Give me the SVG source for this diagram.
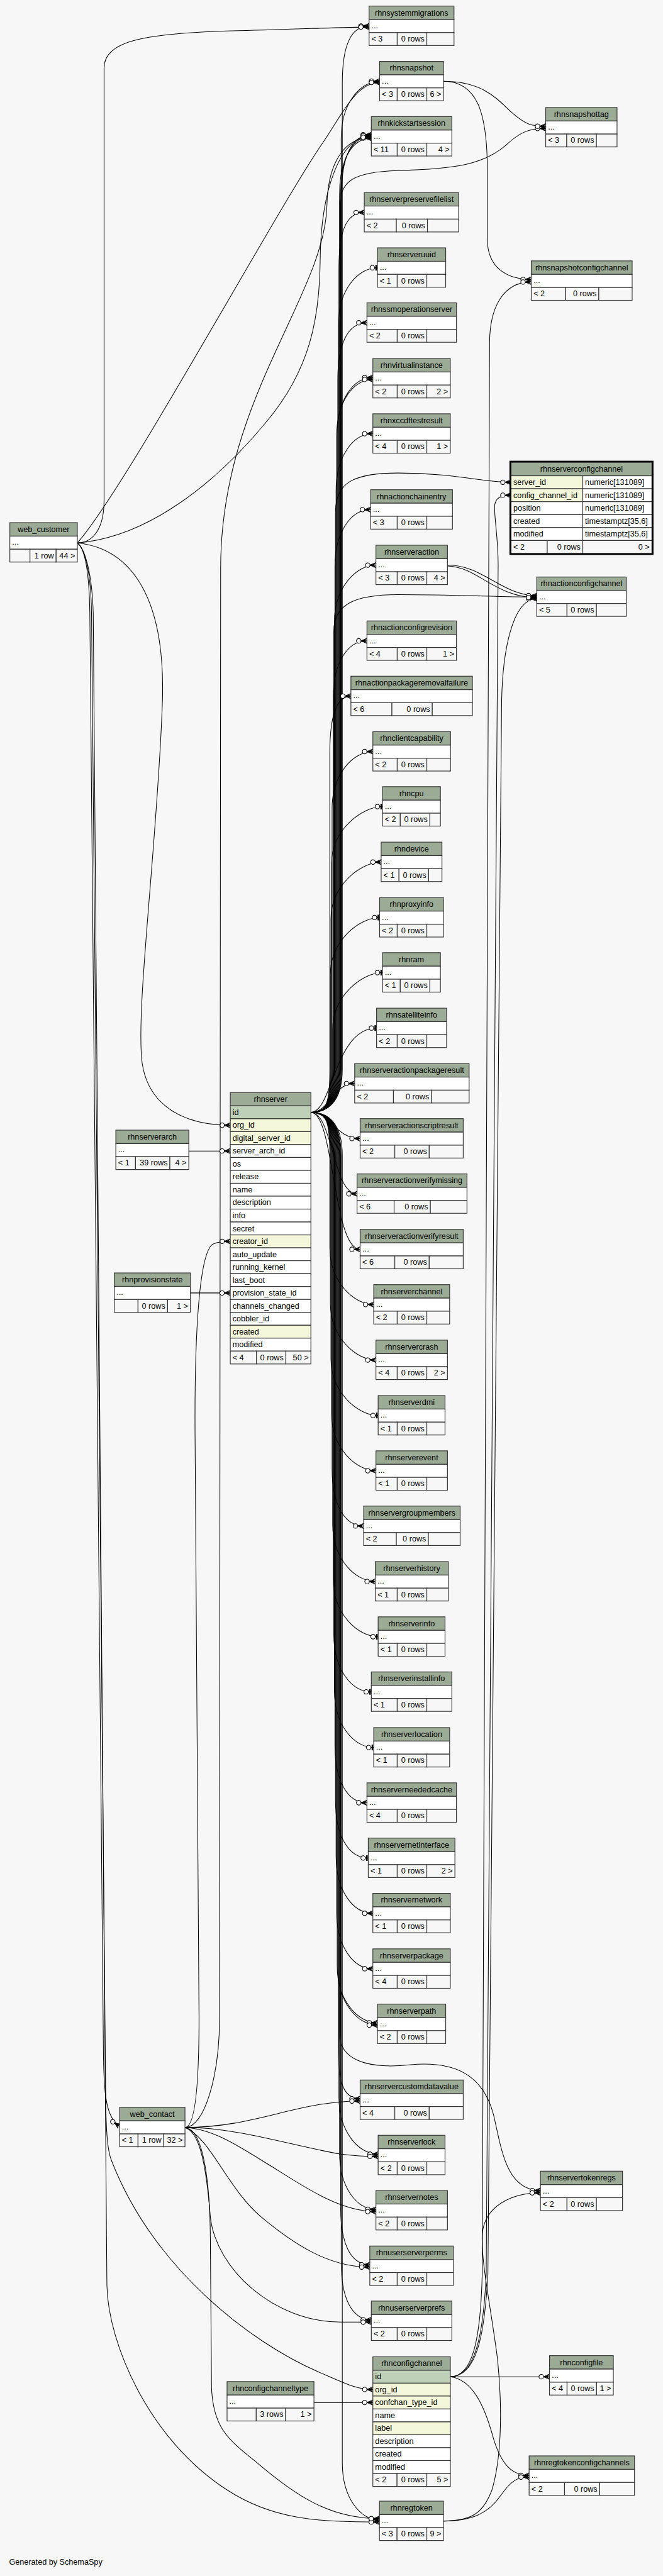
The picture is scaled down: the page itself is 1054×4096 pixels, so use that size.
<svg xmlns="http://www.w3.org/2000/svg" width="1054" height="4096" viewBox="0 0 1054 4096">
<style>
.h{fill:#9bab96}.w{fill:#fff}.f{fill:#f7f7f7}.pk{fill:#bed1b8}.ix{fill:#f4f7da}
.n rect{stroke:#333;stroke-width:1.3}
text{font-family:"Liberation Sans",Arial,Helvetica,sans-serif;font-size:14px;fill:#000}
.c{text-anchor:middle}.r{text-anchor:end}
#connectors path{fill:none;stroke:#000;stroke-width:1.15}
</style>
<defs>
<marker id="many" markerUnits="userSpaceOnUse" viewBox="0 0 24 16" markerWidth="24" markerHeight="16" refX="22" refY="8" orient="auto" overflow="visible">
<path d="M11.6,8 L22,8 M11.6,8 L22,3.5 M11.6,8 L22,12.5" stroke="#000" stroke-width="1.2" fill="none"/>
<path d="M11.6,8 L22,4.5 L18.5,8 L22,11.5 Z" fill="#000"/>
<circle cx="7.6" cy="8" r="4" fill="#fff" stroke="#000" stroke-width="1.2"/>
</marker>
<marker id="one" markerUnits="userSpaceOnUse" viewBox="0 0 24 16" markerWidth="24" markerHeight="16" refX="22" refY="8" orient="auto" overflow="visible">
<path d="M17,8 L22,8" stroke="#000" stroke-width="1.2"/>
<rect x="18.3" y="3" width="2.8" height="10" fill="#000"/>
<circle cx="13" cy="8" r="4" fill="#fff" stroke="#000" stroke-width="1.2"/>
</marker>
</defs>
<rect width="1054" height="4096" fill="#f7f7f7"/>
<g transform="scale(0.904)">
<g id="connectors">
<!-- rhnserver.id up -->
<path marker-end="url(#many)" d="M546.7,1956.5 C575,1956.5 602,1940 602,1880 L602,145.7 C602,85.7 614.1,45.7 649.1,45.7"/>
<path marker-end="url(#many)" d="M546.7,1956.5 C575,1956.5 600,1940 600,1880 L600,242.9 C600,182.9 632.6,142.9 667.6,142.9"/>
<path marker-end="url(#many)" d="M546.7,1956.5 C575,1956.5 601,1940 601,1880 L601,337 C601,277 618,237 653,237"/>
<path marker-end="url(#many)" d="M546.7,1956.5 C575,1956.5 599,1940 599,1880 L599,340 C599,280 618,240 653,240"/>
<path marker-end="url(#many)" d="M546.7,1956.5 C575,1956.5 597,1940 597,1880 L597,343 C597,283 618,243 653,243"/>
<path marker-end="url(#many)" d="M546.7,1956.5 C575,1956.5 598,1940 598,1880 L598,360 C598,320 620,302 700,300 C800,297 850,290 890,255 C915,232 930,226 959.7,226"/>
<path marker-end="url(#many)" d="M546.7,1956.5 C575,1956.5 596,1940 596,1880 L596,473.7 C596,413.7 605.6,373.7 640.6,373.7"/>
<path marker-end="url(#one)" d="M546.7,1956.5 C575,1956.5 595,1940 595,1880 L595,570.9 C595,510.9 628.8,470.9 663.8,470.9"/>
<path marker-end="url(#many)" d="M546.7,1956.5 C575,1956.5 594,1940 594,1880 L594,667.7 C594,607.7 610.3,567.7 645.3,567.7"/>
<path marker-end="url(#many)" d="M546.7,1956.5 C575,1956.5 593,1940 593,1880 L593,764 C593,704 620.7,664 655.7,664"/>
<path marker-end="url(#many)" d="M546.7,1956.5 C575,1956.5 592,1940 592,1880 L592,767.5 C592,707.5 620.7,667.5 655.7,667.5"/>
<path marker-end="url(#many)" d="M546.7,1956.5 C575,1956.5 591,1940 591,1880 L591,862.8 C591,802.8 620.7,762.8 655.7,762.8"/>
<path marker-end="url(#many)" d="M546.7,1956.5 C575,1956.5 590,1940 590,1880 L590,900 C590,850 620,832 700,832 C800,832 850,848.3 898.7,848.3"/>
<path marker-end="url(#many)" d="M546.7,1956.5 C575,1956.5 589,1940 589,1880 L589,996.4 C589,936.4 616.8,896.4 651.8,896.4"/>
<path marker-end="url(#many)" d="M546.7,1956.5 C575,1956.5 588,1940 588,1880 L588,1094 C588,1034 626.1,994 661.1,994"/>
<path marker-end="url(#many)" d="M546.7,1956.5 C575,1956.5 587,1940 587,1880 L587,1110 C587,1065 620,1046 700,1046 C800,1046 880,1050 943.9,1050"/>
<path marker-end="url(#many)" d="M546.7,1956.5 C575,1956.5 586,1940 586,1880 L586,1227.2 C586,1167.2 610.3,1127.2 645.3,1127.2"/>
<path marker-end="url(#many)" d="M546.7,1956.5 C575,1956.5 580,1940 580,1880 L580,1324.4 C580,1264.4 590,1224.4 617.1,1224.4"/>
<path marker-end="url(#many)" d="M546.7,1956.5 C575,1956.5 584,1940 584,1880 L584,1421.9 C584,1361.9 620.7,1321.9 655.7,1321.9"/>
<path marker-end="url(#one)" d="M546.7,1956.5 C575,1956.5 583,1940 583,1880 L583,1518.7 C583,1458.7 637.7,1418.7 672.7,1418.7"/>
<path marker-end="url(#many)" d="M546.7,1956.5 C575,1956.5 582,1940 582,1880 L582,1616.3 C582,1556.3 635.3,1516.3 670.3,1516.3"/>
<path marker-end="url(#one)" d="M546.7,1956.5 C575,1956.5 581,1940 581,1880 L581,1713.9 C581,1653.9 632.6,1613.9 667.6,1613.9"/>
<path marker-end="url(#one)" d="M546.7,1956.5 C575,1956.5 585,1940 585,1880 L585,1810.7 C585,1750.7 637.7,1710.7 672.7,1710.7"/>
<path marker-end="url(#one)" d="M546.7,1956.5 C585,1956.5 588,1808.3 662.2,1808.3"/>
<!-- rhnserver.id near -->
<path marker-end="url(#many)" d="M546.7,1956.5 C580,1956.5 585,1905.8 623.7,1905.8"/>
<path marker-end="url(#many)" d="M546.7,1956.5 C580,1956.5 590,2002.6 633.3,2002.6"/>
<path marker-end="url(#many)" d="M546.7,1956.5 C585,1956.5 585,2099.8 627.9,2099.8"/>
<path marker-end="url(#many)" d="M546.7,1956.5 C588,1956.5 585,2197.4 633.3,2197.4"/>
<!-- rhnserver.id down -->
<path marker-end="url(#many)" d="M546.7,1956.5 C575,1956.5 580,1973 580,2033 L580,2194.6 C580,2254.6 622.2,2294.6 657.2,2294.6"/>
<path marker-end="url(#many)" d="M546.7,1956.5 C575,1956.5 581,1973 581,2033 L581,2292.2 C581,2352.2 626.1,2392.2 661.1,2392.2"/>
<path marker-end="url(#one)" d="M546.7,1956.5 C575,1956.5 582,1973 582,2033 L582,2389.7 C582,2449.7 630,2489.7 665,2489.7"/>
<path marker-end="url(#many)" d="M546.7,1956.5 C575,1956.5 583,1973 583,2033 L583,2486.9 C583,2546.9 626.1,2586.9 661.1,2586.9"/>
<path marker-end="url(#many)" d="M546.7,1956.5 C575,1956.5 584,1973 584,2033 L584,2584.1 C584,2644.1 604.5,2684.1 639.5,2684.1"/>
<path marker-end="url(#many)" d="M546.7,1956.5 C575,1956.5 585,1973 585,2033 L585,2681.7 C585,2741.7 624.9,2781.7 659.9,2781.7"/>
<path marker-end="url(#one)" d="M546.7,1956.5 C575,1956.5 586,1973 586,2033 L586,2778.9 C586,2838.9 630,2878.9 665,2878.9"/>
<path marker-end="url(#one)" d="M546.7,1956.5 C575,1956.5 587,1973 587,2033 L587,2875.8 C587,2935.8 618,2975.8 653,2975.8"/>
<path marker-end="url(#one)" d="M546.7,1956.5 C575,1956.5 588,1973 588,2033 L588,2973.7 C588,3033.7 622.2,3073.7 657.2,3073.7"/>
<path marker-end="url(#many)" d="M546.7,1956.5 C575,1956.5 589,1973 589,2033 L589,3070.9 C589,3130.9 610.3,3170.9 645.3,3170.9"/>
<path marker-end="url(#one)" d="M546.7,1956.5 C575,1956.5 590,1973 590,2033 L590,3168.1 C590,3228.1 612.6,3268.1 647.6,3268.1"/>
<path marker-end="url(#many)" d="M546.7,1956.5 C575,1956.5 591,1973 591,2033 L591,3265.3 C591,3325.3 620.7,3365.3 655.7,3365.3"/>
<path marker-end="url(#many)" d="M546.7,1956.5 C575,1956.5 592,1973 592,2033 L592,3362.9 C592,3422.9 620.7,3462.9 655.7,3462.9"/>
<path marker-end="url(#many)" d="M546.7,1956.5 C575,1956.5 593,1973 593,2033 L593,3458 C593,3518 628.8,3558 663.8,3558"/>
<path marker-end="url(#many)" d="M546.7,1956.5 C575,1956.5 594,1973 594,2033 L594,3462 C594,3522 628.8,3562 663.8,3562"/>
<path marker-end="url(#many)" d="M546.7,1956.5 C575,1956.5 598,1973 598,2033 L598,3580 C598,3620 640,3640 720,3632 C800,3624 850,3650 868,3720 C882,3780 890,3853 950.4,3853"/>
<path marker-end="url(#many)" d="M546.7,1956.5 C575,1956.5 595,1973 595,2033 L595,3591.5 C595,3651.5 598.3,3691.5 633.3,3691.5"/>
<path marker-end="url(#many)" d="M546.7,1956.5 C575,1956.5 596,1973 596,2033 L596,3689 C596,3749 630,3789 665,3789"/>
<path marker-end="url(#many)" d="M546.7,1956.5 C575,1956.5 597,1973 597,2033 L597,3786 C597,3846 626.1,3886 661.1,3886"/>
<path marker-end="url(#many)" d="M546.7,1956.5 C575,1956.5 599,1973 599,2033 L599,3883.6 C599,3943.6 615.3,3983.6 650.3,3983.6"/>
<path marker-end="url(#many)" d="M546.7,1956.5 C575,1956.5 600,1973 600,2033 L600,3980.4 C600,4040.4 618,4080.4 653,4080.4"/>
<path marker-end="url(#many)" d="M546.7,1956.5 C575,1956.5 602,1973 602,2033 L602,4332 C602,4392 632.3,4432 667.3,4432"/>
<!-- web_customer -->
<path marker-end="url(#many)" d="M136,955 C160,955 183,935 183,880 L183,120 C183,70 260,58 420,54 C540,51 600,47.7 649.1,47.7"/>
<path marker-end="url(#many)" d="M136,955 C220,860 480,380 565,255 C600,205 625,145 667.6,145"/>
<path marker-end="url(#many)" d="M136,955 C260,945 380,850 470,740 C545,650 562,560 563,460 C564,330 600,238.5 653,238.5"/>
<path marker-end="url(#many)" d="M136,955 C230,965 295,1050 285,1250 C275,1500 238,1780 250,1870 C262,1950 330,1979.2 405,1979.2"/>
<path marker-end="url(#many)" d="M136,955 C150,965 157,1010 158,1080 L182,3620 C183,3690 188,3725 210.3,3740"/>
<path marker-end="url(#many)" d="M136,955 C150,965 160,1010 161,1080 L186,3700 C187,3760 190,3785 196,3800 C270,3990 440,4120 560,4172 C600,4189 625,4202.9 655.7,4202.9"/>
<path marker-end="url(#many)" d="M136,955 C150,965 162,1010 164,1080 L188,4020 C190,4120 260,4290 400,4380 C480,4432 560,4436 667.3,4436"/>
<!-- web_contact -->
<path marker-end="url(#many)" d="M325.3,3742 C345,3742 350,3650 350,3550 L343,2520 C342,2350 350,2200 375,2188 C385,2184 395,2183.4 405,2183.4"/>
<path marker-end="url(#many)" d="M325.3,3742 C360,3742 386,3650 386,3550 L388,1000 C388,700 572,520 575,360 C577,280 610,241.5 653,241.5"/>
<path marker-end="url(#many)" d="M325.3,3742 C420,3742 480,3716 560,3702 C590,3697 610,3695.5 633.3,3695.5"/>
<path marker-end="url(#many)" d="M325.3,3742 C420,3742 520,3776 600,3789 C630,3793 650,3793 665,3793"/>
<path marker-end="url(#many)" d="M325.3,3742 C380,3745 430,3782 480,3812 C540,3850 600,3890 661.1,3890"/>
<path marker-end="url(#many)" d="M325.3,3742 C370,3760 400,3850 460,3900 C520,3950 580,3987.6 650.3,3987.6"/>
<path marker-end="url(#many)" d="M325.3,3742 C350,3750 362,3800 370,3900 C380,3990 480,4084.4 600,4084.4 L653,4084.4"/>
<path marker-end="url(#many)" d="M325.3,3742 C360,3745 370,3850 370,3950 L372,4200 C375,4270 400,4290 450,4330 C520,4390 580,4430 667.3,4430"/>
<!-- rhnsnapshot -->
<path marker-end="url(#many)" d="M779.9,142.9 C850,142.9 875,175 900,198 C925,220 935,222 959.7,222"/>
<path marker-end="url(#many)" d="M779.9,142.9 C840,143 857,200 857,300 L857,420 C857,470 890,491.5 934.2,491.5"/>
<!-- rhnconfigchannel -->
<path marker-end="url(#many)" d="M792,4180.5 L966.3,4180.5"/>
<path marker-end="url(#many)" d="M792,4180.5 C830,4185 852,4230 868,4290 C882,4335 900,4354 930.5,4354"/>
<path marker-end="url(#many)" d="M792,4180.5 C830,4180 845,4120 848,4000 L861,600 C862,540 885,496 934.2,496"/>
<path marker-end="url(#many)" d="M792,4180.5 C835,4180 850,4110 855,4000 L876,1000 C877,950 868,905 870,888 C872,876 880,871 898.7,871"/>
<path marker-end="url(#many)" d="M792,4180.5 C838,4180 852,4110 858,4000 L882,1250 C882,1150 900,1053 943.9,1053"/>
<!-- rhnregtoken -->
<path marker-end="url(#many)" d="M779.9,4434.3 C830,4434 860,4420 880,4390 C900,4362 910,4357 930.5,4357"/>
<path marker-end="url(#many)" d="M779.9,4434.3 C830,4434 850,4420 865,4380 C880,4330 885,4250 875,4150 C862,4050 846,3980 848,3930 C852,3880 900,3857 950.4,3857"/>
<!-- rhnserveraction -->
<path marker-end="url(#many)" d="M786.9,994 C850,994 880,1046 943.9,1048"/>
<path marker-end="url(#many)" d="M786.9,995.5 C840,997 870,1050 943.9,1051.5"/>
<!-- lookups -->
<path marker-end="url(#many)" d="M332,2024.5 L405,2024.5"/>
<path marker-end="url(#many)" d="M334.7,2274.2 L405,2274.2"/>
<path marker-end="url(#many)" d="M552.1,4225.8 L655.7,4225.8"/>
</g>

<g id="rhnsystemmigrations" class="n" transform="translate(649.1,10.7)"><rect class="h" width="149.3" height="23.7"/><rect class="w" y="23.7" width="149.3" height="23"/><rect class="f" y="46.7" width="49.4" height="22.6"/><rect class="f" x="49.4" y="46.7" width="52.1" height="22.6"/><rect class="f" x="101.5" y="46.7" width="47.8" height="22.6"/><text class="c" x="74.65" y="16.5">rhnsystemmigrations</text><text x="4" y="39">...</text><text x="4" y="62.5">&lt; 3</text><text class="r" x="97.5" y="62.5">0 rows</text></g>
<g id="rhnsnapshot" class="n" transform="translate(667.6,107.9)"><rect class="h" width="112.3" height="23.7"/><rect class="w" y="23.7" width="112.3" height="23"/><rect class="f" y="46.7" width="30.9" height="22.6"/><rect class="f" x="30.9" y="46.7" width="52.1" height="22.6"/><rect class="f" x="83" y="46.7" width="29.3" height="22.6"/><text class="c" x="56.15" y="16.5">rhnsnapshot</text><text x="4" y="39">...</text><text x="4" y="62.5">&lt; 3</text><text class="r" x="79" y="62.5">0 rows</text><text class="r" x="108.3" y="62.5">6 &gt;</text></g>
<g id="rhnkickstartsession" class="n" transform="translate(653,205.1)"><rect class="h" width="141.6" height="23.7"/><rect class="w" y="23.7" width="141.6" height="23"/><rect class="f" y="46.7" width="45.5" height="22.6"/><rect class="f" x="45.5" y="46.7" width="52.1" height="22.6"/><rect class="f" x="97.6" y="46.7" width="44" height="22.6"/><text class="c" x="70.8" y="16.5">rhnkickstartsession</text><text x="4" y="39">...</text><text x="4" y="62.5">&lt; 11</text><text class="r" x="93.6" y="62.5">0 rows</text><text class="r" x="137.6" y="62.5">4 &gt;</text></g>
<g id="rhnsnapshottag" class="n" transform="translate(959.7,189.1)"><rect class="h" width="125.4" height="23.7"/><rect class="w" y="23.7" width="125.4" height="23"/><rect class="f" y="46.7" width="37" height="22.6"/><rect class="f" x="37" y="46.7" width="52.1" height="22.6"/><rect class="f" x="89.1" y="46.7" width="36.3" height="22.6"/><text class="c" x="62.7" y="16.5">rhnsnapshottag</text><text x="4" y="39">...</text><text x="4" y="62.5">&lt; 3</text><text class="r" x="85.1" y="62.5">0 rows</text></g>
<g id="rhnserverpreservefilelist" class="n" transform="translate(640.6,338.7)"><rect class="h" width="165.9" height="23.7"/><rect class="w" y="23.7" width="165.9" height="23"/><rect class="f" y="46.7" width="56.4" height="22.6"/><rect class="f" x="56.4" y="46.7" width="54.7" height="22.6"/><rect class="f" x="111.1" y="46.7" width="54.8" height="22.6"/><text class="c" x="82.95" y="16.5">rhnserverpreservefilelist</text><text x="4" y="39">...</text><text x="4" y="62.5">&lt; 2</text><text class="r" x="107.1" y="62.5">0 rows</text></g>
<g id="rhnserveruuid" class="n" transform="translate(663.8,435.9)"><rect class="h" width="120" height="23.7"/><rect class="w" y="23.7" width="120" height="23"/><rect class="f" y="46.7" width="34.7" height="22.6"/><rect class="f" x="34.7" y="46.7" width="52.1" height="22.6"/><rect class="f" x="86.8" y="46.7" width="33.2" height="22.6"/><text class="c" x="60" y="16.5">rhnserveruuid</text><text x="4" y="39">...</text><text x="4" y="62.5">&lt; 1</text><text class="r" x="82.8" y="62.5">0 rows</text></g>
<g id="rhnsnapshotconfigchannel" class="n" transform="translate(934.2,458.9)"><rect class="h" width="177.5" height="23.7"/><rect class="w" y="23.7" width="177.5" height="23"/><rect class="f" y="46.7" width="60.6" height="22.6"/><rect class="f" x="60.6" y="46.7" width="58.2" height="22.6"/><rect class="f" x="118.8" y="46.7" width="58.7" height="22.6"/><text class="c" x="88.75" y="16.5">rhnsnapshotconfigchannel</text><text x="4" y="39">...</text><text x="4" y="62.5">&lt; 2</text><text class="r" x="114.8" y="62.5">0 rows</text></g>
<g id="rhnssmoperationserver" class="n" transform="translate(645.3,532.7)"><rect class="h" width="157.4" height="23.7"/><rect class="w" y="23.7" width="157.4" height="23"/><rect class="f" y="46.7" width="53.2" height="22.6"/><rect class="f" x="53.2" y="46.7" width="52.1" height="22.6"/><rect class="f" x="105.3" y="46.7" width="52.1" height="22.6"/><text class="c" x="78.7" y="16.5">rhnssmoperationserver</text><text x="4" y="39">...</text><text x="4" y="62.5">&lt; 2</text><text class="r" x="101.3" y="62.5">0 rows</text></g>
<g id="rhnvirtualinstance" class="n" transform="translate(655.7,630.6)"><rect class="h" width="136.2" height="23.7"/><rect class="w" y="23.7" width="136.2" height="23"/><rect class="f" y="46.7" width="42.8" height="22.6"/><rect class="f" x="42.8" y="46.7" width="52.1" height="22.6"/><rect class="f" x="94.9" y="46.7" width="41.3" height="22.6"/><text class="c" x="68.1" y="16.5">rhnvirtualinstance</text><text x="4" y="39">...</text><text x="4" y="62.5">&lt; 2</text><text class="r" x="90.9" y="62.5">0 rows</text><text class="r" x="132.2" y="62.5">2 &gt;</text></g>
<g id="rhnxccdftestresult" class="n" transform="translate(655.7,727.8)"><rect class="h" width="136.2" height="23.7"/><rect class="w" y="23.7" width="136.2" height="23"/><rect class="f" y="46.7" width="42.8" height="22.6"/><rect class="f" x="42.8" y="46.7" width="52.1" height="22.6"/><rect class="f" x="94.9" y="46.7" width="41.3" height="22.6"/><text class="c" x="68.1" y="16.5">rhnxccdftestresult</text><text x="4" y="39">...</text><text x="4" y="62.5">&lt; 4</text><text class="r" x="90.9" y="62.5">0 rows</text><text class="r" x="132.2" y="62.5">1 &gt;</text></g>
<g id="rhnserverconfigchannel" class="n" transform="translate(898.7,813.2)"><rect class="h" width="247.7" height="23.7"/><rect class="ix" y="23.7" width="126.2" height="22.75"/><rect class="w" x="126.2" y="23.7" width="121.5" height="22.75"/><rect class="ix" y="46.45" width="126.2" height="22.75"/><rect class="w" x="126.2" y="46.45" width="121.5" height="22.75"/><rect class="w" y="69.2" width="126.2" height="22.75"/><rect class="w" x="126.2" y="69.2" width="121.5" height="22.75"/><rect class="w" y="91.95" width="126.2" height="22.75"/><rect class="w" x="126.2" y="91.95" width="121.5" height="22.75"/><rect class="w" y="114.7" width="126.2" height="22.75"/><rect class="w" x="126.2" y="114.7" width="121.5" height="22.75"/><rect class="f" y="137.45" width="63.7" height="22.75"/><rect class="f" x="63.7" y="137.45" width="62.5" height="22.75"/><rect class="f" x="126.2" y="137.45" width="121.5" height="22.75"/><rect x="-1.4" y="-1.4" width="250.5" height="162.9" fill="none" style="stroke:#000;stroke-width:2.8"/><text class="c" x="123.85" y="16.5">rhnserverconfigchannel</text><text x="4" y="40">server_id</text><text x="130.2" y="40">numeric[131089]</text><text x="4" y="62.7">config_channel_id</text><text x="130.2" y="62.7">numeric[131089]</text><text x="4" y="85.4">position</text><text x="130.2" y="85.4">numeric[131089]</text><text x="4" y="108.2">created</text><text x="130.2" y="108.2">timestamptz[35,6]</text><text x="4" y="130.9">modified</text><text x="130.2" y="130.9">timestamptz[35,6]</text><text x="4" y="153.7">&lt; 2</text><text class="r" x="122.2" y="153.7">0 rows</text><text class="r" x="243.7" y="153.7">0 &gt;</text></g>
<g id="rhnactionchainentry" class="n" transform="translate(651.8,861.4)"><rect class="h" width="143.9" height="23.7"/><rect class="w" y="23.7" width="143.9" height="23"/><rect class="f" y="46.7" width="46.7" height="22.6"/><rect class="f" x="46.7" y="46.7" width="52.1" height="22.6"/><rect class="f" x="98.8" y="46.7" width="45.1" height="22.6"/><text class="c" x="71.95" y="16.5">rhnactionchainentry</text><text x="4" y="39">...</text><text x="4" y="62.5">&lt; 3</text><text class="r" x="94.8" y="62.5">0 rows</text></g>
<g id="rhnserveraction" class="n" transform="translate(661.1,959)"><rect class="h" width="125.8" height="23.7"/><rect class="w" y="23.7" width="125.8" height="23"/><rect class="f" y="46.7" width="37.4" height="22.6"/><rect class="f" x="37.4" y="46.7" width="52.1" height="22.6"/><rect class="f" x="89.5" y="46.7" width="36.3" height="22.6"/><text class="c" x="62.9" y="16.5">rhnserveraction</text><text x="4" y="39">...</text><text x="4" y="62.5">&lt; 3</text><text class="r" x="85.5" y="62.5">0 rows</text><text class="r" x="121.8" y="62.5">4 &gt;</text></g>
<g id="rhnactionconfigchannel" class="n" transform="translate(943.9,1014.9)"><rect class="h" width="157.4" height="23.7"/><rect class="w" y="23.7" width="157.4" height="23"/><rect class="f" y="46.7" width="53.2" height="22.6"/><rect class="f" x="53.2" y="46.7" width="51.7" height="22.6"/><rect class="f" x="104.9" y="46.7" width="52.5" height="22.6"/><text class="c" x="78.7" y="16.5">rhnactionconfigchannel</text><text x="4" y="39">...</text><text x="4" y="62.5">&lt; 5</text><text class="r" x="100.9" y="62.5">0 rows</text></g>
<g id="rhnactionconfigrevision" class="n" transform="translate(645.3,1092.2)"><rect class="h" width="157.4" height="23.7"/><rect class="w" y="23.7" width="157.4" height="23"/><rect class="f" y="46.7" width="53.2" height="22.6"/><rect class="f" x="53.2" y="46.7" width="52.1" height="22.6"/><rect class="f" x="105.3" y="46.7" width="52.1" height="22.6"/><text class="c" x="78.7" y="16.5">rhnactionconfigrevision</text><text x="4" y="39">...</text><text x="4" y="62.5">&lt; 4</text><text class="r" x="101.3" y="62.5">0 rows</text><text class="r" x="153.4" y="62.5">1 &gt;</text></g>
<g id="rhnactionpackageremovalfailure" class="n" transform="translate(617.1,1189.4)"><rect class="h" width="213.7" height="23.7"/><rect class="w" y="23.7" width="213.7" height="23"/><rect class="f" y="46.7" width="72.1" height="22.6"/><rect class="f" x="72.1" y="46.7" width="71" height="22.6"/><rect class="f" x="143.1" y="46.7" width="70.6" height="22.6"/><text class="c" x="106.85" y="16.5">rhnactionpackageremovalfailure</text><text x="4" y="39">...</text><text x="4" y="62.5">&lt; 6</text><text class="r" x="139.1" y="62.5">0 rows</text></g>
<g id="rhnclientcapability" class="n" transform="translate(655.7,1286.9)"><rect class="h" width="136.6" height="23.7"/><rect class="w" y="23.7" width="136.6" height="23"/><rect class="f" y="46.7" width="42.8" height="22.6"/><rect class="f" x="42.8" y="46.7" width="52.1" height="22.6"/><rect class="f" x="94.9" y="46.7" width="41.7" height="22.6"/><text class="c" x="68.3" y="16.5">rhnclientcapability</text><text x="4" y="39">...</text><text x="4" y="62.5">&lt; 2</text><text class="r" x="90.9" y="62.5">0 rows</text></g>
<g id="rhncpu" class="n" transform="translate(672.7,1383.7)"><rect class="h" width="101.8" height="23.7"/><rect class="w" y="23.7" width="101.8" height="23"/><rect class="f" y="46.7" width="31.2" height="22.6"/><rect class="f" x="31.2" y="46.7" width="52.1" height="22.6"/><rect class="f" x="83.3" y="46.7" width="18.5" height="22.6"/><text class="c" x="50.9" y="16.5">rhncpu</text><text x="4" y="39">...</text><text x="4" y="62.5">&lt; 2</text><text class="r" x="79.3" y="62.5">0 rows</text></g>
<g id="rhndevice" class="n" transform="translate(670.3,1481.3)"><rect class="h" width="106.9" height="23.7"/><rect class="w" y="23.7" width="106.9" height="23"/><rect class="f" y="46.7" width="31.3" height="22.6"/><rect class="f" x="31.3" y="46.7" width="52.1" height="22.6"/><rect class="f" x="83.4" y="46.7" width="23.5" height="22.6"/><text class="c" x="53.45" y="16.5">rhndevice</text><text x="4" y="39">...</text><text x="4" y="62.5">&lt; 1</text><text class="r" x="79.4" y="62.5">0 rows</text></g>
<g id="rhnproxyinfo" class="n" transform="translate(667.6,1578.9)"><rect class="h" width="112.3" height="23.7"/><rect class="w" y="23.7" width="112.3" height="23"/><rect class="f" y="46.7" width="30.9" height="22.6"/><rect class="f" x="30.9" y="46.7" width="52.1" height="22.6"/><rect class="f" x="83" y="46.7" width="29.3" height="22.6"/><text class="c" x="56.15" y="16.5">rhnproxyinfo</text><text x="4" y="39">...</text><text x="4" y="62.5">&lt; 2</text><text class="r" x="79" y="62.5">0 rows</text></g>
<g id="rhnram" class="n" transform="translate(672.7,1675.7)"><rect class="h" width="101.8" height="23.7"/><rect class="w" y="23.7" width="101.8" height="23"/><rect class="f" y="46.7" width="31.2" height="22.6"/><rect class="f" x="31.2" y="46.7" width="52.1" height="22.6"/><rect class="f" x="83.3" y="46.7" width="18.5" height="22.6"/><text class="c" x="50.9" y="16.5">rhnram</text><text x="4" y="39">...</text><text x="4" y="62.5">&lt; 1</text><text class="r" x="79.3" y="62.5">0 rows</text></g>
<g id="rhnsatelliteinfo" class="n" transform="translate(662.2,1773.3)"><rect class="h" width="123.1" height="23.7"/><rect class="w" y="23.7" width="123.1" height="23"/><rect class="f" y="46.7" width="36.3" height="22.6"/><rect class="f" x="36.3" y="46.7" width="52.1" height="22.6"/><rect class="f" x="88.4" y="46.7" width="34.7" height="22.6"/><text class="c" x="61.55" y="16.5">rhnsatelliteinfo</text><text x="4" y="39">...</text><text x="4" y="62.5">&lt; 2</text><text class="r" x="84.4" y="62.5">0 rows</text></g>
<g id="rhnserveractionpackageresult" class="n" transform="translate(623.7,1870.8)"><rect class="h" width="201.3" height="23.7"/><rect class="w" y="23.7" width="201.3" height="23"/><rect class="f" y="46.7" width="68.2" height="22.6"/><rect class="f" x="68.2" y="46.7" width="66.8" height="22.6"/><rect class="f" x="135" y="46.7" width="66.3" height="22.6"/><text class="c" x="100.65" y="16.5">rhnserveractionpackageresult</text><text x="4" y="39">...</text><text x="4" y="62.5">&lt; 2</text><text class="r" x="131" y="62.5">0 rows</text></g>
<g id="rhnserveractionscriptresult" class="n" transform="translate(633.3,1967.6)"><rect class="h" width="181.3" height="23.7"/><rect class="w" y="23.7" width="181.3" height="23"/><rect class="f" y="46.7" width="61" height="22.6"/><rect class="f" x="61" y="46.7" width="60.5" height="22.6"/><rect class="f" x="121.5" y="46.7" width="59.8" height="22.6"/><text class="c" x="90.65" y="16.5">rhnserveractionscriptresult</text><text x="4" y="39">...</text><text x="4" y="62.5">&lt; 2</text><text class="r" x="117.5" y="62.5">0 rows</text></g>
<g id="rhnserveractionverifymissing" class="n" transform="translate(627.9,2064.8)"><rect class="h" width="193.3" height="23.7"/><rect class="w" y="23.7" width="193.3" height="23"/><rect class="f" y="46.7" width="65.2" height="22.6"/><rect class="f" x="65.2" y="46.7" width="63.7" height="22.6"/><rect class="f" x="128.9" y="46.7" width="64.4" height="22.6"/><text class="c" x="96.65" y="16.5">rhnserveractionverifymissing</text><text x="4" y="39">...</text><text x="4" y="62.5">&lt; 6</text><text class="r" x="124.9" y="62.5">0 rows</text></g>
<g id="rhnserveractionverifyresult" class="n" transform="translate(633.3,2162.4)"><rect class="h" width="181.3" height="23.7"/><rect class="w" y="23.7" width="181.3" height="23"/><rect class="f" y="46.7" width="61" height="22.6"/><rect class="f" x="61" y="46.7" width="60.5" height="22.6"/><rect class="f" x="121.5" y="46.7" width="59.8" height="22.6"/><text class="c" x="90.65" y="16.5">rhnserveractionverifyresult</text><text x="4" y="39">...</text><text x="4" y="62.5">&lt; 6</text><text class="r" x="117.5" y="62.5">0 rows</text></g>
<g id="rhnserverchannel" class="n" transform="translate(657.2,2259.6)"><rect class="h" width="133.5" height="23.7"/><rect class="w" y="23.7" width="133.5" height="23"/><rect class="f" y="46.7" width="41.3" height="22.6"/><rect class="f" x="41.3" y="46.7" width="52.1" height="22.6"/><rect class="f" x="93.4" y="46.7" width="40.1" height="22.6"/><text class="c" x="66.75" y="16.5">rhnserverchannel</text><text x="4" y="39">...</text><text x="4" y="62.5">&lt; 2</text><text class="r" x="89.4" y="62.5">0 rows</text></g>
<g id="rhnservercrash" class="n" transform="translate(661.1,2357.2)"><rect class="h" width="125.8" height="23.7"/><rect class="w" y="23.7" width="125.8" height="23"/><rect class="f" y="46.7" width="37.4" height="22.6"/><rect class="f" x="37.4" y="46.7" width="52.1" height="22.6"/><rect class="f" x="89.5" y="46.7" width="36.3" height="22.6"/><text class="c" x="62.9" y="16.5">rhnservercrash</text><text x="4" y="39">...</text><text x="4" y="62.5">&lt; 4</text><text class="r" x="85.5" y="62.5">0 rows</text><text class="r" x="121.8" y="62.5">2 &gt;</text></g>
<g id="rhnserverdmi" class="n" transform="translate(665,2454.7)"><rect class="h" width="117.6" height="23.7"/><rect class="w" y="23.7" width="117.6" height="23"/><rect class="f" y="46.7" width="33.5" height="22.6"/><rect class="f" x="33.5" y="46.7" width="52.1" height="22.6"/><rect class="f" x="85.6" y="46.7" width="32" height="22.6"/><text class="c" x="58.8" y="16.5">rhnserverdmi</text><text x="4" y="39">...</text><text x="4" y="62.5">&lt; 1</text><text class="r" x="81.6" y="62.5">0 rows</text></g>
<g id="rhnserverevent" class="n" transform="translate(661.1,2551.9)"><rect class="h" width="125.8" height="23.7"/><rect class="w" y="23.7" width="125.8" height="23"/><rect class="f" y="46.7" width="37.4" height="22.6"/><rect class="f" x="37.4" y="46.7" width="52.1" height="22.6"/><rect class="f" x="89.5" y="46.7" width="36.3" height="22.6"/><text class="c" x="62.9" y="16.5">rhnserverevent</text><text x="4" y="39">...</text><text x="4" y="62.5">&lt; 1</text><text class="r" x="85.5" y="62.5">0 rows</text></g>
<g id="rhnservergroupmembers" class="n" transform="translate(639.5,2649.1)"><rect class="h" width="169.7" height="23.7"/><rect class="w" y="23.7" width="169.7" height="23"/><rect class="f" y="46.7" width="57.5" height="22.6"/><rect class="f" x="57.5" y="46.7" width="56.3" height="22.6"/><rect class="f" x="113.8" y="46.7" width="55.9" height="22.6"/><text class="c" x="84.85" y="16.5">rhnservergroupmembers</text><text x="4" y="39">...</text><text x="4" y="62.5">&lt; 2</text><text class="r" x="109.8" y="62.5">0 rows</text></g>
<g id="rhnserverhistory" class="n" transform="translate(659.9,2746.7)"><rect class="h" width="128.5" height="23.7"/><rect class="w" y="23.7" width="128.5" height="23"/><rect class="f" y="46.7" width="38.6" height="22.6"/><rect class="f" x="38.6" y="46.7" width="52.1" height="22.6"/><rect class="f" x="90.7" y="46.7" width="37.8" height="22.6"/><text class="c" x="64.25" y="16.5">rhnserverhistory</text><text x="4" y="39">...</text><text x="4" y="62.5">&lt; 1</text><text class="r" x="86.7" y="62.5">0 rows</text></g>
<g id="rhnserverinfo" class="n" transform="translate(665,2843.9)"><rect class="h" width="117.6" height="23.7"/><rect class="w" y="23.7" width="117.6" height="23"/><rect class="f" y="46.7" width="33.5" height="22.6"/><rect class="f" x="33.5" y="46.7" width="52.1" height="22.6"/><rect class="f" x="85.6" y="46.7" width="32" height="22.6"/><text class="c" x="58.8" y="16.5">rhnserverinfo</text><text x="4" y="39">...</text><text x="4" y="62.5">&lt; 1</text><text class="r" x="81.6" y="62.5">0 rows</text></g>
<g id="rhnserverinstallinfo" class="n" transform="translate(653,2940.8)"><rect class="h" width="141.6" height="23.7"/><rect class="w" y="23.7" width="141.6" height="23"/><rect class="f" y="46.7" width="45.5" height="22.6"/><rect class="f" x="45.5" y="46.7" width="52.1" height="22.6"/><rect class="f" x="97.6" y="46.7" width="44" height="22.6"/><text class="c" x="70.8" y="16.5">rhnserverinstallinfo</text><text x="4" y="39">...</text><text x="4" y="62.5">&lt; 1</text><text class="r" x="93.6" y="62.5">0 rows</text></g>
<g id="rhnserverlocation" class="n" transform="translate(657.2,3038.7)"><rect class="h" width="133.5" height="23.7"/><rect class="w" y="23.7" width="133.5" height="23"/><rect class="f" y="46.7" width="41.3" height="22.6"/><rect class="f" x="41.3" y="46.7" width="52.1" height="22.6"/><rect class="f" x="93.4" y="46.7" width="40.1" height="22.6"/><text class="c" x="66.75" y="16.5">rhnserverlocation</text><text x="4" y="39">...</text><text x="4" y="62.5">&lt; 1</text><text class="r" x="89.4" y="62.5">0 rows</text></g>
<g id="rhnserverneededcache" class="n" transform="translate(645.3,3135.9)"><rect class="h" width="157.4" height="23.7"/><rect class="w" y="23.7" width="157.4" height="23"/><rect class="f" y="46.7" width="53.2" height="22.6"/><rect class="f" x="53.2" y="46.7" width="52.1" height="22.6"/><rect class="f" x="105.3" y="46.7" width="52.1" height="22.6"/><text class="c" x="78.7" y="16.5">rhnserverneededcache</text><text x="4" y="39">...</text><text x="4" y="62.5">&lt; 4</text><text class="r" x="101.3" y="62.5">0 rows</text></g>
<g id="rhnservernetinterface" class="n" transform="translate(647.6,3233.1)"><rect class="h" width="152.4" height="23.7"/><rect class="w" y="23.7" width="152.4" height="23"/><rect class="f" y="46.7" width="50.9" height="22.6"/><rect class="f" x="50.9" y="46.7" width="52.1" height="22.6"/><rect class="f" x="103" y="46.7" width="49.4" height="22.6"/><text class="c" x="76.2" y="16.5">rhnservernetinterface</text><text x="4" y="39">...</text><text x="4" y="62.5">&lt; 1</text><text class="r" x="99" y="62.5">0 rows</text><text class="r" x="148.4" y="62.5">2 &gt;</text></g>
<g id="rhnservernetwork" class="n" transform="translate(655.7,3330.3)"><rect class="h" width="136.2" height="23.7"/><rect class="w" y="23.7" width="136.2" height="23"/><rect class="f" y="46.7" width="42.8" height="22.6"/><rect class="f" x="42.8" y="46.7" width="52.1" height="22.6"/><rect class="f" x="94.9" y="46.7" width="41.3" height="22.6"/><text class="c" x="68.1" y="16.5">rhnservernetwork</text><text x="4" y="39">...</text><text x="4" y="62.5">&lt; 1</text><text class="r" x="90.9" y="62.5">0 rows</text></g>
<g id="rhnserverpackage" class="n" transform="translate(655.7,3427.9)"><rect class="h" width="136.2" height="23.7"/><rect class="w" y="23.7" width="136.2" height="23"/><rect class="f" y="46.7" width="42.8" height="22.6"/><rect class="f" x="42.8" y="46.7" width="52.1" height="22.6"/><rect class="f" x="94.9" y="46.7" width="41.3" height="22.6"/><text class="c" x="68.1" y="16.5">rhnserverpackage</text><text x="4" y="39">...</text><text x="4" y="62.5">&lt; 4</text><text class="r" x="90.9" y="62.5">0 rows</text></g>
<g id="rhnserverpath" class="n" transform="translate(663.8,3525.1)"><rect class="h" width="120" height="23.7"/><rect class="w" y="23.7" width="120" height="23"/><rect class="f" y="46.7" width="34.7" height="22.6"/><rect class="f" x="34.7" y="46.7" width="52.1" height="22.6"/><rect class="f" x="86.8" y="46.7" width="33.2" height="22.6"/><text class="c" x="60" y="16.5">rhnserverpath</text><text x="4" y="39">...</text><text x="4" y="62.5">&lt; 2</text><text class="r" x="82.8" y="62.5">0 rows</text></g>
<g id="rhnservercustomdatavalue" class="n" transform="translate(633.3,3658.6)"><rect class="h" width="181.3" height="23.7"/><rect class="w" y="23.7" width="181.3" height="23"/><rect class="f" y="46.7" width="61" height="22.6"/><rect class="f" x="61" y="46.7" width="60.5" height="22.6"/><rect class="f" x="121.5" y="46.7" width="59.8" height="22.6"/><text class="c" x="90.65" y="16.5">rhnservercustomdatavalue</text><text x="4" y="39">...</text><text x="4" y="62.5">&lt; 4</text><text class="r" x="117.5" y="62.5">0 rows</text></g>
<g id="rhnserverlock" class="n" transform="translate(665,3755.8)"><rect class="h" width="117.6" height="23.7"/><rect class="w" y="23.7" width="117.6" height="23"/><rect class="f" y="46.7" width="33.5" height="22.6"/><rect class="f" x="33.5" y="46.7" width="52.1" height="22.6"/><rect class="f" x="85.6" y="46.7" width="32" height="22.6"/><text class="c" x="58.8" y="16.5">rhnserverlock</text><text x="4" y="39">...</text><text x="4" y="62.5">&lt; 2</text><text class="r" x="81.6" y="62.5">0 rows</text></g>
<g id="rhnservernotes" class="n" transform="translate(661.1,3853)"><rect class="h" width="125.8" height="23.7"/><rect class="w" y="23.7" width="125.8" height="23"/><rect class="f" y="46.7" width="37.4" height="22.6"/><rect class="f" x="37.4" y="46.7" width="52.1" height="22.6"/><rect class="f" x="89.5" y="46.7" width="36.3" height="22.6"/><text class="c" x="62.9" y="16.5">rhnservernotes</text><text x="4" y="39">...</text><text x="4" y="62.5">&lt; 2</text><text class="r" x="85.5" y="62.5">0 rows</text></g>
<g id="rhnuserserverperms" class="n" transform="translate(650.3,3950.6)"><rect class="h" width="147" height="23.7"/><rect class="w" y="23.7" width="147" height="23"/><rect class="f" y="46.7" width="48.2" height="22.6"/><rect class="f" x="48.2" y="46.7" width="52.1" height="22.6"/><rect class="f" x="100.3" y="46.7" width="46.7" height="22.6"/><text class="c" x="73.5" y="16.5">rhnuserserverperms</text><text x="4" y="39">...</text><text x="4" y="62.5">&lt; 2</text><text class="r" x="96.3" y="62.5">0 rows</text></g>
<g id="rhnuserserverprefs" class="n" transform="translate(653,4047.4)"><rect class="h" width="141.6" height="23.7"/><rect class="w" y="23.7" width="141.6" height="23"/><rect class="f" y="46.7" width="45.5" height="22.6"/><rect class="f" x="45.5" y="46.7" width="52.1" height="22.6"/><rect class="f" x="97.6" y="46.7" width="44" height="22.6"/><text class="c" x="70.8" y="16.5">rhnuserserverprefs</text><text x="4" y="39">...</text><text x="4" y="62.5">&lt; 2</text><text class="r" x="93.6" y="62.5">0 rows</text></g>
<g id="rhnservertokenregs" class="n" transform="translate(950.4,3818.9)"><rect class="h" width="144.3" height="23.7"/><rect class="w" y="23.7" width="144.3" height="23"/><rect class="f" y="46.7" width="46.7" height="22.6"/><rect class="f" x="46.7" y="46.7" width="51.7" height="22.6"/><rect class="f" x="98.4" y="46.7" width="45.9" height="22.6"/><text class="c" x="72.15" y="16.5">rhnservertokenregs</text><text x="4" y="39">...</text><text x="4" y="62.5">&lt; 2</text><text class="r" x="94.4" y="62.5">0 rows</text></g>
<g id="rhnconfigfile" class="n" transform="translate(966.3,4143.4)"><rect class="h" width="112.3" height="23.7"/><rect class="w" y="23.7" width="112.3" height="23"/><rect class="f" y="46.7" width="30.9" height="22.6"/><rect class="f" x="30.9" y="46.7" width="51.8" height="22.6"/><rect class="f" x="82.7" y="46.7" width="29.6" height="22.6"/><text class="c" x="56.15" y="16.5">rhnconfigfile</text><text x="4" y="39">...</text><text x="4" y="62.5">&lt; 4</text><text class="r" x="78.7" y="62.5">0 rows</text><text class="r" x="108.3" y="62.5">1 &gt;</text></g>
<g id="rhnregtokenconfigchannels" class="n" transform="translate(930.5,4319.7)"><rect class="h" width="185.3" height="23.7"/><rect class="w" y="23.7" width="185.3" height="23"/><rect class="f" y="46.7" width="62.3" height="22.6"/><rect class="f" x="62.3" y="46.7" width="61.7" height="22.6"/><rect class="f" x="124" y="46.7" width="61.3" height="22.6"/><text class="c" x="92.65" y="16.5">rhnregtokenconfigchannels</text><text x="4" y="39">...</text><text x="4" y="62.5">&lt; 2</text><text class="r" x="120" y="62.5">0 rows</text></g>
<g id="rhnregtoken" class="n" transform="translate(667.3,4399.3)"><rect class="h" width="112.6" height="23.7"/><rect class="w" y="23.7" width="112.6" height="23"/><rect class="f" y="46.7" width="30.9" height="22.6"/><rect class="f" x="30.9" y="46.7" width="52.4" height="22.6"/><rect class="f" x="83.3" y="46.7" width="29.3" height="22.6"/><text class="c" x="56.3" y="16.5">rhnregtoken</text><text x="4" y="39">...</text><text x="4" y="62.5">&lt; 3</text><text class="r" x="79.3" y="62.5">0 rows</text><text class="r" x="108.6" y="62.5">9 &gt;</text></g>
<g id="rhnconfigchanneltype" class="n" transform="translate(399.3,4189)"><rect class="h" width="152.8" height="23.7"/><rect class="w" y="23.7" width="152.8" height="23"/><rect class="f" y="46.7" width="51.3" height="22.6"/><rect class="f" x="51.3" y="46.7" width="51.8" height="22.6"/><rect class="f" x="103.1" y="46.7" width="49.7" height="22.6"/><text class="c" x="76.4" y="16.5">rhnconfigchanneltype</text><text x="4" y="39">...</text><text class="r" x="99.1" y="62.5">3 rows</text><text class="r" x="148.8" y="62.5">1 &gt;</text></g>
<g id="web_customer" class="n" transform="translate(17.3,919.3)"><rect class="h" width="118.7" height="23.7"/><rect class="w" y="23.7" width="118.7" height="23"/><rect class="f" y="46.7" width="35.4" height="22.6"/><rect class="f" x="35.4" y="46.7" width="46" height="22.6"/><rect class="f" x="81.4" y="46.7" width="37.3" height="22.6"/><text class="c" x="59.35" y="16.5">web_customer</text><text x="4" y="39">...</text><text class="r" x="77.4" y="62.5">1 row</text><text class="r" x="114.7" y="62.5">44 &gt;</text></g>
<g id="web_contact" class="n" transform="translate(210.3,3706.7)"><rect class="h" width="115" height="23.7"/><rect class="w" y="23.7" width="115" height="23"/><rect class="f" y="46.7" width="32.4" height="22.6"/><rect class="f" x="32.4" y="46.7" width="45.3" height="22.6"/><rect class="f" x="77.7" y="46.7" width="37.3" height="22.6"/><text class="c" x="57.5" y="16.5">web_contact</text><text x="4" y="39">...</text><text x="4" y="62.5">&lt; 1</text><text class="r" x="73.7" y="62.5">1 row</text><text class="r" x="111" y="62.5">32 &gt;</text></g>
<g id="rhnserverarch" class="n" transform="translate(203.7,1987.8)"><rect class="h" width="128.3" height="23.7"/><rect class="w" y="23.7" width="128.3" height="23"/><rect class="f" y="46.7" width="34.6" height="22.6"/><rect class="f" x="34.6" y="46.7" width="60.4" height="22.6"/><rect class="f" x="95" y="46.7" width="33.3" height="22.6"/><text class="c" x="64.15" y="16.5">rhnserverarch</text><text x="4" y="39">...</text><text x="4" y="62.5">&lt; 1</text><text class="r" x="91" y="62.5">39 rows</text><text class="r" x="124.3" y="62.5">4 &gt;</text></g>
<g id="rhnprovisionstate" class="n" transform="translate(201,2239)"><rect class="h" width="133.7" height="23.7"/><rect class="w" y="23.7" width="133.7" height="23"/><rect class="f" y="46.7" width="41.7" height="22.6"/><rect class="f" x="41.7" y="46.7" width="52" height="22.6"/><rect class="f" x="93.7" y="46.7" width="40" height="22.6"/><text class="c" x="66.85" y="16.5">rhnprovisionstate</text><text x="4" y="39">...</text><text class="r" x="89.7" y="62.5">0 rows</text><text class="r" x="129.7" y="62.5">1 &gt;</text></g>

<g id="rhnserver" class="n" transform="translate(405,1921.5)">
<rect class="h" width="141.7" height="23.6"/>
<rect class="pk" y="23.6" width="141.7" height="22.7"/>
<rect class="ix" y="46.3" width="141.7" height="22.7"/>
<rect class="ix" y="69" width="141.7" height="22.7"/>
<rect class="w" y="91.7" width="141.7" height="22.7"/>
<rect class="w" y="114.4" width="141.7" height="22.7"/>
<rect class="w" y="137.1" width="141.7" height="22.7"/>
<rect class="w" y="159.8" width="141.7" height="22.7"/>
<rect class="w" y="182.5" width="141.7" height="22.7"/>
<rect class="w" y="205.2" width="141.7" height="22.7"/>
<rect class="w" y="227.9" width="141.7" height="22.7"/>
<rect class="ix" y="250.6" width="141.7" height="22.7"/>
<rect class="w" y="273.3" width="141.7" height="22.7"/>
<rect class="w" y="296" width="141.7" height="22.7"/>
<rect class="w" y="318.7" width="141.7" height="22.7"/>
<rect class="w" y="341.4" width="141.7" height="22.7"/>
<rect class="w" y="364.1" width="141.7" height="22.7"/>
<rect class="w" y="386.8" width="141.7" height="22.7"/>
<rect class="ix" y="409.5" width="141.7" height="22.7"/>
<rect class="w" y="432.2" width="141.7" height="22.7"/>
<rect class="f" y="454.9" width="46" height="22.7"/>
<rect class="f" x="46" y="454.9" width="51.7" height="22.7"/>
<rect class="f" x="97.7" y="454.9" width="44" height="22.7"/>
<text class="c" x="70.85" y="16.5">rhnserver</text>
<text x="4" y="39.6">id</text>
<text x="4" y="62.3">org_id</text>
<text x="4" y="85">digital_server_id</text>
<text x="4" y="107.7">server_arch_id</text>
<text x="4" y="130.4">os</text>
<text x="4" y="153.1">release</text>
<text x="4" y="175.8">name</text>
<text x="4" y="198.5">description</text>
<text x="4" y="221.2">info</text>
<text x="4" y="243.9">secret</text>
<text x="4" y="266.6">creator_id</text>
<text x="4" y="289.3">auto_update</text>
<text x="4" y="312">running_kernel</text>
<text x="4" y="334.7">last_boot</text>
<text x="4" y="357.4">provision_state_id</text>
<text x="4" y="380.1">channels_changed</text>
<text x="4" y="402.8">cobbler_id</text>
<text x="4" y="425.5">created</text>
<text x="4" y="448.2">modified</text>
<text x="4" y="470.9">&lt; 4</text>
<text class="r" x="93.7" y="470.9">0 rows</text>
<text class="r" x="137.7" y="470.9">50 &gt;</text>
</g>

<g id="rhnconfigchannel" class="n" transform="translate(655.7,4145.4)">
<rect class="h" width="136.3" height="23.7"/>
<rect class="pk" y="23.7" width="136.3" height="22.7"/>
<rect class="ix" y="46.4" width="136.3" height="22.7"/>
<rect class="ix" y="69.1" width="136.3" height="22.7"/>
<rect class="w" y="91.8" width="136.3" height="22.7"/>
<rect class="ix" y="114.5" width="136.3" height="22.7"/>
<rect class="w" y="137.2" width="136.3" height="22.7"/>
<rect class="w" y="159.9" width="136.3" height="22.7"/>
<rect class="w" y="182.6" width="136.3" height="22.7"/>
<rect class="f" y="205.3" width="42.5" height="22.7"/>
<rect class="f" x="42.5" y="205.3" width="52.4" height="22.7"/>
<rect class="f" x="94.9" y="205.3" width="41.4" height="22.7"/>
<text class="c" x="68.15" y="16.5">rhnconfigchannel</text>
<text x="4" y="39.7">id</text>
<text x="4" y="62.4">org_id</text>
<text x="4" y="85.1">confchan_type_id</text>
<text x="4" y="107.8">name</text>
<text x="4" y="130.5">label</text>
<text x="4" y="153.2">description</text>
<text x="4" y="175.9">created</text>
<text x="4" y="198.6">modified</text>
<text x="4" y="221.3">&lt; 2</text>
<text class="r" x="90.9" y="221.3">0 rows</text>
<text class="r" x="132.3" y="221.3">5 &gt;</text>
</g>

<text x="16" y="4511">Generated by SchemaSpy</text>
</g>
</svg>
